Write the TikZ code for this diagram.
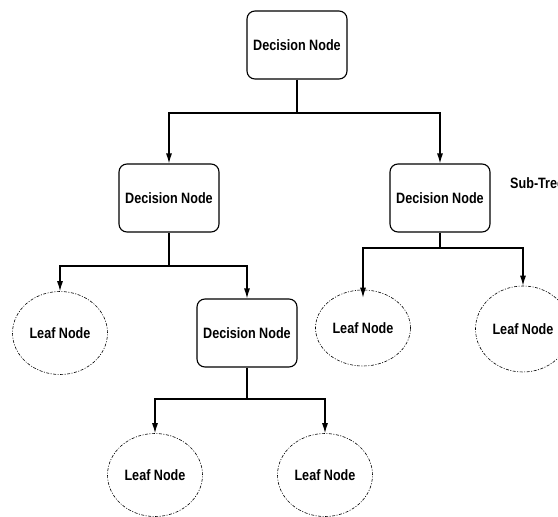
\documentclass[tikz,border=0pt]{standalone}
\usepackage{fontspec}
\setmainfont{Liberation Sans}
\newfontfamily\condfont[FakeStretch=0.84]{Liberation Sans}
\usetikzlibrary{arrows.meta,shapes.geometric}
\begin{document}
\begin{tikzpicture}[x=1pt,y=-1pt,
  lbl/.style={font=\condfont\bfseries\fontsize{15}{17}\selectfont},
  dec/.style={draw, line width=1.1pt, rounded corners=8pt, minimum width=100pt, minimum height=68pt, inner sep=0pt, lbl},
  leaf/.style={draw, ellipse, line width=0.6pt, dash pattern=on 3pt off 1.5pt on 1pt off 1.5pt, minimum width=95pt, minimum height=83pt, inner sep=0pt, lbl},
  conn/.style={line width=1.1pt, -{Latex[length=10pt,width=6pt]}}]
\useasboundingbox (0,0) rectangle (558,517);
\clip (0,0) rectangle (558,517);
\node[dec] (root) at (297,45) {Decision Node};
\node[dec] (L) at (169,198) {Decision Node};
\node[dec] (R) at (440,198) {Decision Node};
\node[dec] (M) at (247,333) {Decision Node};
\node[leaf] (LL) at (60,333) {Leaf Node};
\node[leaf, minimum height=76pt] (RL) at (363,328) {Leaf Node};
\node[leaf, minimum height=86pt] (RR) at (523,329) {Leaf Node};
\node[leaf] (ML) at (155,475) {Leaf Node};
\node[leaf] (MR) at (325,475) {Leaf Node};
\node[anchor=base west, inner sep=0pt, lbl] (st) at (510,188) {Sub-Tree};
\coordinate (j0) at (297,113);
\coordinate (j1) at (169,266);
\coordinate (j2) at (440,248);
\coordinate (j3) at (247,399);
\draw[line width=1.1pt] (root.south) -- (j0);
\draw[conn] (j0) -| (L.north);
\draw[conn] (j0) -| (R.north);
\draw[line width=1.1pt] (L.south) -- (j1);
\draw[conn] (j1) -| (LL.north);
\draw[conn] (j1) -| (M.north);
\draw[line width=1.1pt] (R.south) -- (j2);
\draw[conn] (j2) -| ([yshift=-8pt]RL.north);
\draw[conn] (j2) -| (RR.north);
\draw[line width=1.1pt] (M.south) -- (j3);
\draw[conn] (j3) -| (ML.north);
\draw[conn] (j3) -| (MR.north);
\end{tikzpicture}
\end{document}
